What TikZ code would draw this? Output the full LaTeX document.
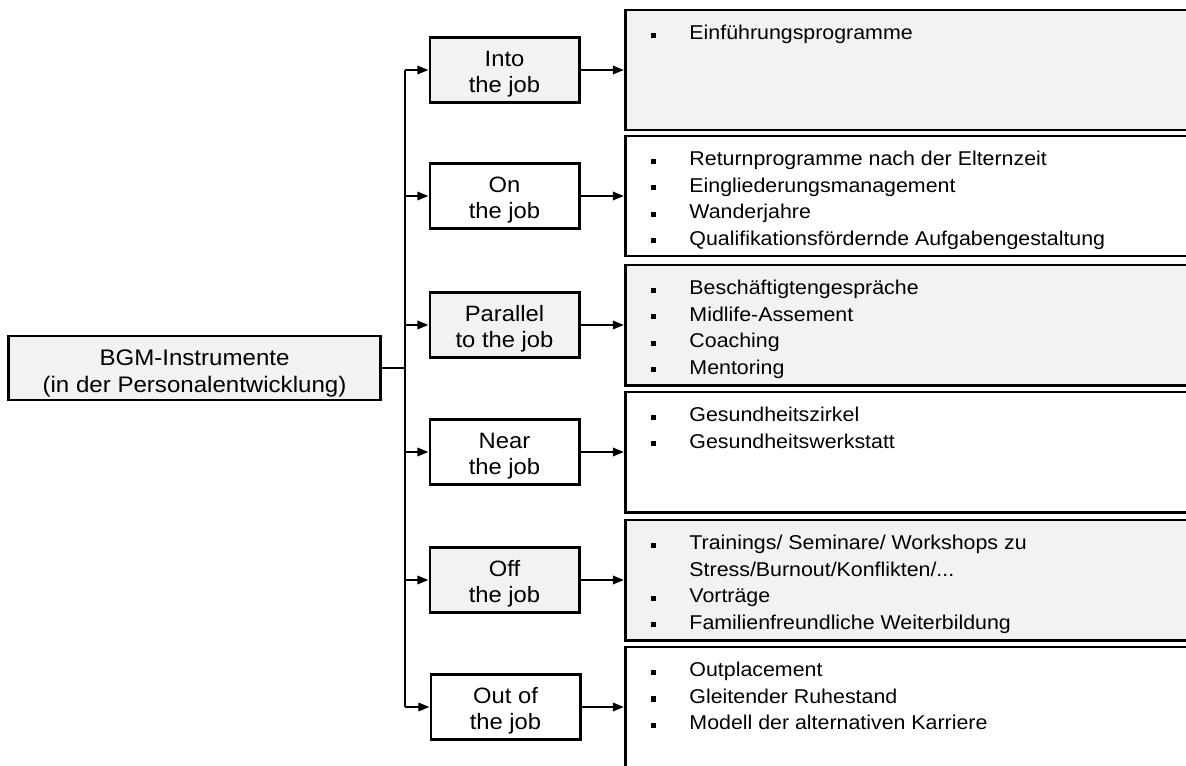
\documentclass[tikz,border=0pt]{standalone}
\usepackage{fontspec}
\setmainfont[FakeStretch=1.07]{Liberation Sans}
\usetikzlibrary{arrows.meta,positioning}

% bullet list inside the right-hand boxes
\newcommand\itemlist[1]{\parbox[c][3cm][t]{15cm}{\leftskip=45.5pt\parindent=0pt\vspace*{8pt}#1}}
\newcommand\blt{\par\noindent\strut\llap{\raisebox{1.2pt}{\rule{3.8pt}{3.8pt}}\hspace{23.6pt}}}
% centred lines, set a little low in the box
\newcommand\boxtext[2][3pt]{\raisebox{-#1}[\height][\depth]{\begin{tabular}{@{}c@{}}#2\end{tabular}}}

\begin{document}
\begin{tikzpicture}[
    x=0.025cm, y=-0.025cm,
    base/.style={draw, line width=2.1pt, inner sep=0pt, font=\fontsize{14.2}{18.8}\selectfont},
    lvl/.style={base, minimum width=3.725cm, minimum height=1.625cm, font=\fontsize{15.8}{18.4}\selectfont},
    lst/.style={base, anchor=west},
    gry/.style={fill=black!5},
    arr/.style={-{Triangle[length=8pt,width=6pt]}, line width=1.6pt},
    trunk/.style={line width=2.1pt}
]
\useasboundingbox (0,0) rectangle (1186,765);
\clip (0,0) rectangle (1186,765);

\node[base, gry, minimum width=9.275cm, minimum height=1.6cm, font=\fontsize{16}{19.4}\selectfont] (root) at (194.5,368) {\boxtext[4pt]{BGM-Instrumente\\(in der Personalentwicklung)}};
\coordinate (tMid) at (405,368);

\node[lvl, gry] (mInto) at (504.5,70) {\boxtext{Into\\the job}};
\node[lvl] (mOn) at (504.5,196) {\boxtext{On\\the job}};
\node[lvl, gry] (mPar) at (504.5,325) {\boxtext{Parallel\\to the job}};
\node[lvl] (mNear) at (504.5,452) {\boxtext{Near\\the job}};
\node[lvl, gry] (mOff) at (504.5,580) {\boxtext{Off\\the job}};
\node[lvl] (mOut) at (505.5,707) {\boxtext{Out of\\the job}};

\node[lst, gry] (rInto) at (624,70) {\itemlist{\blt Einführungsprogramme}};
\node[lst] (rOn) at (624,196) {\itemlist{\blt Returnprogramme nach der Elternzeit
  \blt Eingliederungsmanagement
  \blt Wanderjahre
  \blt Qualifikationsfördernde Aufgabengestaltung}};
\node[lst, gry] (rPar) at (624,325) {\itemlist{\blt Beschäftigtengespräche
  \blt Midlife-Assement
  \blt Coaching
  \blt Mentoring}};
\node[lst] (rNear) at (624,452) {\itemlist{\blt Gesundheitszirkel
  \blt Gesundheitswerkstatt}};
\node[lst, gry] (rOff) at (624,580) {\itemlist{\blt Trainings/ Seminare/ Workshops zu\\Stress/Burnout/Konflikten/...
  \blt Vorträge
  \blt Familienfreundliche Weiterbildung}};
\node[lst] (rOut) at (624,707) {\itemlist{\blt Outplacement
  \blt Gleitender Ruhestand
  \blt Modell der alternativen Karriere}};

\draw[trunk] (root.east) -- (tMid);
\draw[trunk] (mInto.west -| tMid) -- (mOut.west -| tMid);
\draw[arr] (mInto.west -| tMid) -- (mInto.west);
\draw[arr] (mOn.west -| tMid) -- (mOn.west);
\draw[arr] (mPar.west -| tMid) -- (mPar.west);
\draw[arr] (mNear.west -| tMid) -- (mNear.west);
\draw[arr] (mOff.west -| tMid) -- (mOff.west);
\draw[arr] (mOut.west -| tMid) -- (mOut.west);

\draw[arr] (mInto) -- (rInto);
\draw[arr] (mOn) -- (rOn);
\draw[arr] (mPar) -- (rPar);
\draw[arr] (mNear) -- (rNear);
\draw[arr] (mOff) -- (rOff);
\draw[arr] (mOut) -- (rOut);
\end{tikzpicture}
\end{document}
